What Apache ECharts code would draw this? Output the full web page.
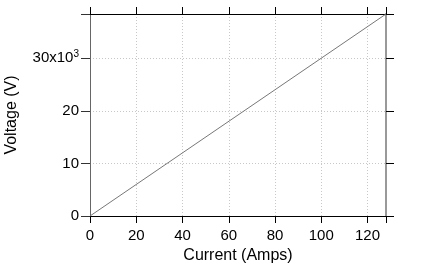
<!DOCTYPE html>
<html><head><meta charset="utf-8">
<script src="https://cdn.jsdelivr.net/npm/echarts@6/dist/echarts.min.js"></script>
<style>html,body{margin:0;padding:0;background:#fff}#c{width:421px;height:263px}</style>
</head><body><div id="c"></div>
<script>
const currents = [0, 128];
const voltages = [0, 38400];
const xTicks = [0, 20, 40, 60, 80, 100, 120];
const yTicks = [0, 10000, 20000, 30000];

const font = 'Liberation Sans, Helvetica, Arial, sans-serif';
const chart = echarts.init(document.getElementById('c'), null, {renderer: 'canvas'});
const gridLine = {show: true, lineStyle: {color: '#c8c8c8', type: [1, 2], width: 1}};
chart.setOption({
  animation: false,
  grid: {left: 90, right: 35, top: 14, bottom: 47, containLabel: false, outerBoundsMode: 'none'},
  xAxis: [{
    type: 'value', min: 0, max: 128, interval: 20, position: 'bottom',
    name: 'Current (Amps)', nameLocation: 'middle', nameGap: 29,
    nameTextStyle: {fontFamily: font, fontSize: 16, color: '#000'},
    axisLine: {show: true, onZero: false, lineStyle: {color: '#000', width: 1}},
    axisTick: {show: true, length: 7, lineStyle: {color: '#000'}},
    axisLabel: {fontFamily: font, fontSize: 15, color: '#000', margin: 12,
      formatter: v => xTicks.includes(v) ? String(v) : ''},
    splitLine: gridLine
  }, {
    type: 'value', min: 0, max: 128, interval: 20, position: 'top',
    axisLine: {show: true, onZero: false, lineStyle: {color: '#000', width: 1}},
    axisTick: {show: true, length: 7, lineStyle: {color: '#000'}},
    axisLabel: {show: false}, splitLine: {show: false}
  }],
  yAxis: [{
    type: 'value', min: 0, max: 38400, interval: 10000, position: 'left',
    name: 'Voltage (V)', nameLocation: 'middle', nameGap: 70, nameRotate: 90,
    nameTextStyle: {fontFamily: font, fontSize: 16, color: '#000'},
    axisLine: {show: true, onZero: false, lineStyle: {color: '#666', width: 1}},
    axisTick: {show: true, length: 9, lineStyle: {color: '#333'}},
    axisLabel: {
      fontFamily: font, fontSize: 15, color: '#000', margin: 11,
      formatter: v => !yTicks.includes(v) ? '' : (v === 30000 ? '30x10{sup|3}' : String(v / 1000)),
      rich: {sup: {fontSize: 10, verticalAlign: 'top', padding: [0, 0, 8, 0], fontFamily: font, color: '#000'}}
    },
    splitLine: gridLine
  }, {
    type: 'value', min: 0, max: 38400, interval: 10000, position: 'right',
    axisLine: {show: true, onZero: false, lineStyle: {color: '#999', width: 2}},
    axisTick: {show: true, length: 8, lineStyle: {color: '#000'}},
    axisLabel: {show: false}, splitLine: {show: false}
  }],
  series: [{
    type: 'line', xAxisIndex: 0, yAxisIndex: 0,
    data: currents.map((c, i) => [c, voltages[i]]),
    showSymbol: false, lineStyle: {color: '#777', width: 1}
  }]
});
</script></body></html>
